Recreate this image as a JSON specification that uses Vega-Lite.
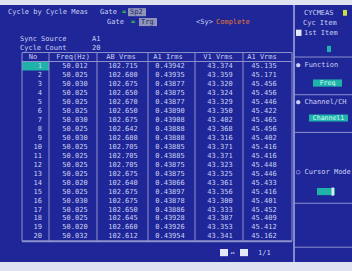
{
  "$schema": "https://vega.github.io/schema/vega-lite/v6.json",
  "width": 352,
  "height": 257,
  "autosize": "none",
  "padding": {"top": 5, "bottom": 9, "left": 0, "right": 0},
  "background": "#dfe2f0",
  "config": {
    "view": {"fill": "#1e2698", "stroke": null},
    "text": {"font": "DejaVu Sans Mono", "fontSize": 7, "color": "#ccd0f2"},
    "axis": {"disable": true}
  },
  "datasets": {
    "table": [
      {"No": 1, "Freq": 50.012, "ABV": 102.715, "A1I": 0.43942, "V1V": 43.374, "A1V": 45.135},
      {"No": 2, "Freq": 50.025, "ABV": 102.680, "A1I": 0.43935, "V1V": 43.359, "A1V": 45.171},
      {"No": 3, "Freq": 50.030, "ABV": 102.675, "A1I": 0.43877, "V1V": 43.320, "A1V": 45.456},
      {"No": 4, "Freq": 50.025, "ABV": 102.650, "A1I": 0.43875, "V1V": 43.324, "A1V": 45.456},
      {"No": 5, "Freq": 50.025, "ABV": 102.670, "A1I": 0.43877, "V1V": 43.329, "A1V": 45.446},
      {"No": 6, "Freq": 50.025, "ABV": 102.650, "A1I": 0.43890, "V1V": 43.350, "A1V": 45.422},
      {"No": 7, "Freq": 50.030, "ABV": 102.675, "A1I": 0.43908, "V1V": 43.402, "A1V": 45.465},
      {"No": 8, "Freq": 50.025, "ABV": 102.642, "A1I": 0.43888, "V1V": 43.368, "A1V": 45.456},
      {"No": 9, "Freq": 50.030, "ABV": 102.680, "A1I": 0.43888, "V1V": 43.316, "A1V": 45.402},
      {"No": 10, "Freq": 50.025, "ABV": 102.705, "A1I": 0.43885, "V1V": 43.371, "A1V": 45.416},
      {"No": 11, "Freq": 50.025, "ABV": 102.705, "A1I": 0.43885, "V1V": 43.371, "A1V": 45.416},
      {"No": 12, "Freq": 50.025, "ABV": 102.705, "A1I": 0.43875, "V1V": 43.323, "A1V": 45.448},
      {"No": 13, "Freq": 50.025, "ABV": 102.675, "A1I": 0.43875, "V1V": 43.325, "A1V": 45.446},
      {"No": 14, "Freq": 50.020, "ABV": 102.640, "A1I": 0.43866, "V1V": 43.361, "A1V": 45.433},
      {"No": 15, "Freq": 50.025, "ABV": 102.675, "A1I": 0.43897, "V1V": 43.356, "A1V": 45.416},
      {"No": 16, "Freq": 50.030, "ABV": 102.675, "A1I": 0.43878, "V1V": 43.300, "A1V": 45.401},
      {"No": 17, "Freq": 50.025, "ABV": 102.650, "A1I": 0.43886, "V1V": 43.333, "A1V": 45.452},
      {"No": 18, "Freq": 50.025, "ABV": 102.645, "A1I": 0.43928, "V1V": 43.387, "A1V": 45.409},
      {"No": 19, "Freq": 50.020, "ABV": 102.660, "A1I": 0.43926, "V1V": 43.353, "A1V": 45.412},
      {"No": 20, "Freq": 50.032, "ABV": 102.612, "A1I": 0.43954, "V1V": 43.341, "A1V": 45.162}
    ],
    "columns": [
      {"col": 0, "name": "No"},
      {"col": 1, "name": "Freq(Hz)"},
      {"col": 2, "name": "AB Vrms"},
      {"col": 3, "name": "A1 Irms"},
      {"col": 4, "name": "V1 Vrms"},
      {"col": 5, "name": "A1 Vrms"}
    ],
    "labels": [
      {"c": 1.6, "r": -5.0, "t": "Cycle by Cycle Meas"},
      {"c": 20, "r": -5.0, "t": "Gate"},
      {"c": 21.4, "r": -3.9, "t": "Gate"},
      {"c": 4, "r": -2, "t": "Sync Source"},
      {"c": 18.4, "r": -2, "t": "A1"},
      {"c": 4, "r": -1, "t": "Cycle Count"},
      {"c": 18.4, "r": -1, "t": "20"},
      {"c": 39.2, "r": -3.9, "t": "<Sy>"},
      {"c": 60.8, "r": -4.9, "t": "CYCMEAS"},
      {"c": 60.6, "r": -3.8, "t": "Cyc Item"},
      {"c": 60.8, "r": -2.7, "t": "1st Item"},
      {"c": 59.2, "r": 0.9, "t": "● Function"},
      {"c": 59.2, "r": 5.0, "t": "● Channel/CH"},
      {"c": 59.2, "r": 12.8, "t": "○ Cursor Mode"},
      {"c": 46.1, "r": 21.8, "t": "↔"},
      {"c": 51.6, "r": 21.8, "t": "1/1"}
    ],
    "orange": [{"c": 43.2, "r": -3.9, "t": "Complete"}],
    "green": [
      {"c": 24.4, "r": -5.0, "t": "="},
      {"c": 26.2, "r": -3.9, "t": "="}
    ],
    "boxes": [
      {"c": 25.6, "c2": 29.2, "r": -5.45, "r2": -4.55, "t": "Sp2"},
      {"c": 27.8, "c2": 31.4, "r": -4.35, "r2": -3.45, "t": "Trg"}
    ],
    "buttons": [
      {"c": 62.6, "c2": 68.4, "r": 2.5, "r2": 3.3},
      {"c": 61.8, "c2": 69.6, "r": 6.4, "r2": 7.2},
      {"c": 63.4, "c2": 67.0, "r": 14.6, "r2": 15.4},
      {"c": 65.4, "c2": 66.2, "r": -1.25, "r2": -0.55}
    ],
    "buttontext": [
      {"c": 65.5, "r": 2.9, "t": "Freq"},
      {"c": 65.7, "r": 6.8, "t": "Channel1"}
    ],
    "whiteboxes": [
      {"c": 59.2, "c2": 60.3, "r": -3.05, "r2": -2.35},
      {"c": 66.3, "c2": 66.8, "r": 14.55, "r2": 15.45},
      {"c": 44.0, "c2": 45.6, "r": 21.4, "r2": 22.2},
      {"c": 48.0, "c2": 49.6, "r": 21.4, "r2": 22.2}
    ],
    "greendot": [
      {"c": 68.6, "c2": 69.4, "r": -5.25, "r2": -4.6}
    ],
    "dividers": [
      {"c": 58.8, "c2": 70.4, "r": 0},
      {"c": 58.8, "c2": 70.4, "r": 4.2},
      {"c": 58.8, "c2": 70.4, "r": 8.4},
      {"c": 58.8, "c2": 70.4, "r": 16.3},
      {"c": 58.8, "c2": 70.4, "r": 21.2}
    ]
  },
  "resolve": {"scale": {"x": "independent"}},
  "layer": [
    {
      "encoding": {},
      "layer": [
        {
          "data": {"values": [{}]},
          "mark": {"type": "rect", "fill": "#1fb2aa"},
          "encoding": {
            "x": {"datum": -0.5, "type": "quantitative", "scale": {"domain": [-0.5, 0, 0.5, 1, 1.5, 2, 2.5, 3, 3.5, 4, 4.5, 5, 5.5], "range": [22, 35, 49, 75, 97, 123, 148, 170, 195, 220, 243, 264, 292]}},
            "x2": {"datum": 0.5},
            "y": {"datum": 0.5, "type": "quantitative", "scale": {"domain": [-5.8, 22.85], "reverse": true, "nice": false, "zero": false}},
            "y2": {"datum": 1.5}
          }
        },
        {"data": {"values": [{}]}, "mark": {"type": "rule", "stroke": "#8d92cc", "strokeWidth": 1}, "encoding": {"x": {"datum": -0.5, "type": "quantitative"}, "y": {"datum": -0.5, "type": "quantitative"}, "y2": {"datum": 20.5}}},
        {"data": {"values": [{}]}, "mark": {"type": "rule", "stroke": "#8d92cc", "strokeWidth": 1}, "encoding": {"x": {"datum": 0.5, "type": "quantitative"}, "y": {"datum": -0.5, "type": "quantitative"}, "y2": {"datum": 20.5}}},
        {"data": {"values": [{}]}, "mark": {"type": "rule", "stroke": "#8d92cc", "strokeWidth": 1}, "encoding": {"x": {"datum": 1.5, "type": "quantitative"}, "y": {"datum": -0.5, "type": "quantitative"}, "y2": {"datum": 20.5}}},
        {"data": {"values": [{}]}, "mark": {"type": "rule", "stroke": "#8d92cc", "strokeWidth": 1}, "encoding": {"x": {"datum": 2.5, "type": "quantitative"}, "y": {"datum": -0.5, "type": "quantitative"}, "y2": {"datum": 20.5}}},
        {"data": {"values": [{}]}, "mark": {"type": "rule", "stroke": "#8d92cc", "strokeWidth": 1}, "encoding": {"x": {"datum": 3.5, "type": "quantitative"}, "y": {"datum": -0.5, "type": "quantitative"}, "y2": {"datum": 20.5}}},
        {"data": {"values": [{}]}, "mark": {"type": "rule", "stroke": "#8d92cc", "strokeWidth": 1}, "encoding": {"x": {"datum": 4.5, "type": "quantitative"}, "y": {"datum": -0.5, "type": "quantitative"}, "y2": {"datum": 20.5}}},
        {"data": {"values": [{}]}, "mark": {"type": "rule", "stroke": "#8d92cc", "strokeWidth": 1}, "encoding": {"x": {"datum": 5.5, "type": "quantitative"}, "y": {"datum": -0.5, "type": "quantitative"}, "y2": {"datum": 20.5}}},
        {"data": {"values": [{}]}, "mark": {"type": "rule", "stroke": "#8d92cc", "strokeWidth": 1}, "encoding": {"y": {"datum": -0.5, "type": "quantitative"}, "x": {"datum": -0.5, "type": "quantitative"}, "x2": {"datum": 5.5}}},
        {"data": {"values": [{}]}, "mark": {"type": "rule", "stroke": "#8d92cc", "strokeWidth": 1}, "encoding": {"y": {"datum": 0.5, "type": "quantitative"}, "x": {"datum": -0.5, "type": "quantitative"}, "x2": {"datum": 5.5}}},
        {"data": {"values": [{}]}, "mark": {"type": "rule", "stroke": "#8d92cc", "strokeWidth": 2}, "encoding": {"y": {"datum": 20.55, "type": "quantitative"}, "x": {"datum": -0.5, "type": "quantitative"}, "x2": {"datum": 5.5}}},
        {
          "data": {"name": "columns"},
          "mark": {"type": "text", "align": "center", "baseline": "middle", "dx": -2},
          "encoding": {
            "x": {"field": "col", "type": "quantitative"},
            "y": {"datum": 0, "type": "quantitative"},
            "text": {"field": "name"}
          }
        },
        {
          "data": {"name": "table"},
          "mark": {"type": "text", "align": "right", "baseline": "middle", "dx": 7},
          "encoding": {
            "x": {"datum": 0, "type": "quantitative"},
            "y": {"field": "No", "type": "quantitative"},
            "text": {"field": "No", "type": "quantitative"}
          }
        },
        {
          "data": {"name": "table"},
          "mark": {"type": "text", "align": "center", "baseline": "middle"},
          "encoding": {"x": {"datum": 1, "type": "quantitative"}, "y": {"field": "No", "type": "quantitative"}, "text": {"field": "Freq", "type": "quantitative", "format": ".3f"}}
        },
        {
          "data": {"name": "table"},
          "mark": {"type": "text", "align": "center", "baseline": "middle"},
          "encoding": {"x": {"datum": 2, "type": "quantitative"}, "y": {"field": "No", "type": "quantitative"}, "text": {"field": "ABV", "type": "quantitative", "format": ".3f"}}
        },
        {
          "data": {"name": "table"},
          "mark": {"type": "text", "align": "center", "baseline": "middle"},
          "encoding": {"x": {"datum": 3, "type": "quantitative"}, "y": {"field": "No", "type": "quantitative"}, "text": {"field": "A1I", "type": "quantitative", "format": ".5f"}}
        },
        {
          "data": {"name": "table"},
          "mark": {"type": "text", "align": "center", "baseline": "middle"},
          "encoding": {"x": {"datum": 4, "type": "quantitative"}, "y": {"field": "No", "type": "quantitative"}, "text": {"field": "V1V", "type": "quantitative", "format": ".3f"}}
        },
        {
          "data": {"name": "table"},
          "mark": {"type": "text", "align": "center", "baseline": "middle"},
          "encoding": {"x": {"datum": 5, "type": "quantitative"}, "y": {"field": "No", "type": "quantitative"}, "text": {"field": "A1V", "type": "quantitative", "format": ".3f"}}
        }
      ]
    },
    {
      "encoding": {},
      "layer": [
        {
          "data": {"values": [{}]},
          "mark": {"type": "rule", "stroke": "#a6abe0", "strokeWidth": 1.5},
          "encoding": {
            "x": {"datum": 58.8, "type": "quantitative", "scale": {"domain": [0, 70.4], "nice": false, "zero": false}},
            "y": {"datum": -5.8, "type": "quantitative"},
            "y2": {"datum": 22.85}
          }
        },
        {
          "data": {"name": "dividers"},
          "mark": {"type": "rule", "stroke": "#8d92cc", "strokeWidth": 1},
          "encoding": {"x": {"field": "c", "type": "quantitative"}, "x2": {"field": "c2"}, "y": {"field": "r", "type": "quantitative"}}
        },
        {
          "data": {"name": "boxes"},
          "mark": {"type": "rect", "fill": "#8f94b8"},
          "encoding": {"x": {"field": "c", "type": "quantitative"}, "x2": {"field": "c2"}, "y": {"field": "r", "type": "quantitative"}, "y2": {"field": "r2"}}
        },
        {
          "data": {"name": "boxes"},
          "mark": {"type": "text", "align": "left", "baseline": "middle", "dx": 2, "color": "#20246a"},
          "encoding": {"x": {"field": "c", "type": "quantitative"}, "y": {"field": "r", "type": "quantitative"}, "text": {"field": "t"}, "yOffset": {"value": 3.5}}
        },
        {
          "data": {"name": "buttons"},
          "mark": {"type": "rect", "fill": "#1fb2aa"},
          "encoding": {"x": {"field": "c", "type": "quantitative"}, "x2": {"field": "c2"}, "y": {"field": "r", "type": "quantitative"}, "y2": {"field": "r2"}}
        },
        {
          "data": {"name": "greendot"},
          "mark": {"type": "rect", "fill": "#c8e040"},
          "encoding": {"x": {"field": "c", "type": "quantitative"}, "x2": {"field": "c2"}, "y": {"field": "r", "type": "quantitative"}, "y2": {"field": "r2"}}
        },
        {
          "data": {"name": "buttontext"},
          "mark": {"type": "text", "align": "center", "baseline": "middle", "color": "#d8fff8", "fontSize": 6.5},
          "encoding": {"x": {"field": "c", "type": "quantitative"}, "y": {"field": "r", "type": "quantitative"}, "text": {"field": "t"}}
        },
        {
          "data": {"name": "whiteboxes"},
          "mark": {"type": "rect", "fill": "#e6e8f8"},
          "encoding": {"x": {"field": "c", "type": "quantitative"}, "x2": {"field": "c2"}, "y": {"field": "r", "type": "quantitative"}, "y2": {"field": "r2"}}
        },
        {
          "data": {"name": "labels"},
          "mark": {"type": "text", "align": "left", "baseline": "middle"},
          "encoding": {"x": {"field": "c", "type": "quantitative"}, "y": {"field": "r", "type": "quantitative"}, "text": {"field": "t"}}
        },
        {
          "data": {"name": "orange"},
          "mark": {"type": "text", "align": "left", "baseline": "middle", "color": "#e8782a"},
          "encoding": {"x": {"field": "c", "type": "quantitative"}, "y": {"field": "r", "type": "quantitative"}, "text": {"field": "t"}}
        },
        {
          "data": {"name": "green"},
          "mark": {"type": "text", "align": "left", "baseline": "middle", "color": "#3cd040", "fontWeight": "bold"},
          "encoding": {"x": {"field": "c", "type": "quantitative"}, "y": {"field": "r", "type": "quantitative"}, "text": {"field": "t"}}
        }
      ]
    }
  ]
}
